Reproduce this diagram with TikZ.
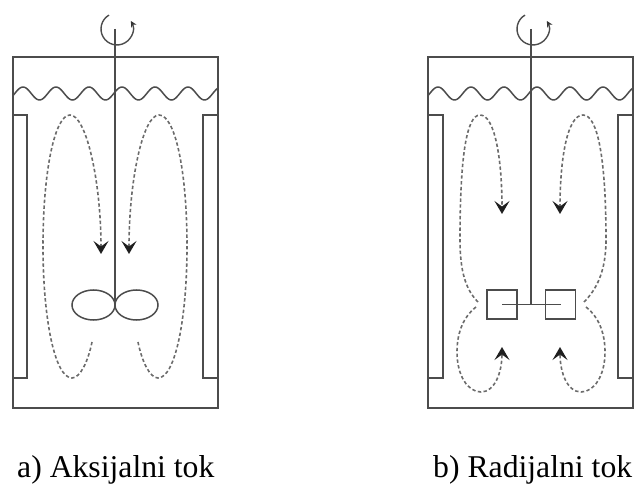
\documentclass[tikz,border=0pt]{standalone}
\usepackage{fontspec}
\setmainfont{Liberation Serif}
\usetikzlibrary{arrows.meta}
\tikzset{
  wall/.style={draw=black!70, line width=1.5pt},
  flow/.style={draw=black!58, line width=1.6pt, dash pattern=on 3.4pt off 2.4pt},
  flowtip/.style={-{Stealth[length=13pt,width=15pt,inset=5.5pt,color=black!88]}},
  rot/.style={draw=black!70, line width=1.4pt, -{Stealth[length=6pt,width=6pt,color=black!80]}},
  caption/.style={inner sep=0pt, anchor=base west, font=\fontsize{31.7}{38}\selectfont},
}
\begin{document}
\begin{tikzpicture}[x=1pt,y=-1pt]
\useasboundingbox (0,0) rectangle (635,486);

% ===== a) axial =====
\draw[wall] (13,57) rectangle (218,408);
\draw[wall] (13,115) rectangle (27,378);
\draw[wall] (203,115) rectangle (218,378);
\draw[wall] plot[domain=13:218, samples=160, smooth] (\x,{93.5-6.5*sin((\x-14.75)*10.909)});
\draw[wall] (115,29) -- (115,305);
\draw[rot] (109,15.1) arc[start angle=-120, end angle=-390, radius=16];
\draw[wall] (93.5,305) ellipse[x radius=21.5, y radius=15];
\draw[wall] (136.5,305) ellipse[x radius=21.5, y radius=15];
% flow loops
\draw[flow, flowtip] (92,342) .. controls (88,362) and (80,378) .. (72,378)
  .. controls (55,378) and (43,320) .. (43,246)
  .. controls (43,170) and (55,115) .. (70,115)
  .. controls (86,115) and (101,180) .. (101,254);
\draw[flow, flowtip] (138,342) .. controls (142,362) and (150,378) .. (158,378)
  .. controls (175,378) and (187,320) .. (187,246)
  .. controls (187,170) and (175,115) .. (159,115)
  .. controls (143,115) and (129,180) .. (129,254);
\node[caption] (capa) at (17,477) {a) Aksijalni tok};

% ===== b) radial =====
\draw[wall] (428,57) rectangle (633,408);
\draw[wall] (428,115) rectangle (443,378);
\draw[wall] (618,115) rectangle (633,378);
\draw[wall] plot[domain=428:633, samples=160, smooth] (\x,{93.5-6.5*sin((\x-429.75)*10.909)});
\draw[rot] (525,15.1) arc[start angle=-120, end angle=-390, radius=16];
\node[wall, minimum width=30pt, minimum height=29pt, inner sep=0pt] (bl) at (502,304.5) {};
\node[wall, minimum width=30pt, minimum height=29pt, inner sep=0pt] (br) at (560.5,304.5) {};
\draw[wall] (bl.center) -- (br.center);
\coordinate (hub) at (531,304.5);
\draw[wall] (531,29) -- (hub);
% upper loops
\draw[flow, flowtip] (478,302) .. controls (466,290) and (460,272) .. (460,240)
  .. controls (460,160) and (466,115) .. (480,115)
  .. controls (495,115) and (502,160) .. (502,214);
\draw[flow, flowtip] (584,302) .. controls (596,290) and (606,272) .. (606,240)
  .. controls (606,160) and (598,115) .. (583,115)
  .. controls (567,115) and (560,160) .. (560,214);
% lower loops
\draw[flow, flowtip] (476,307) .. controls (462,318) and (457,335) .. (457,352)
  .. controls (457,376) and (468,392) .. (481,392)
  .. controls (495,392) and (502,372) .. (502,347);
\draw[flow, flowtip] (586,307) .. controls (600,318) and (605,335) .. (605,352)
  .. controls (605,376) and (594,392) .. (581,392)
  .. controls (567,392) and (560,372) .. (560,347);
\node[caption] (capb) at (433,477) {b) Radijalni tok};
\end{tikzpicture}
\end{document}
